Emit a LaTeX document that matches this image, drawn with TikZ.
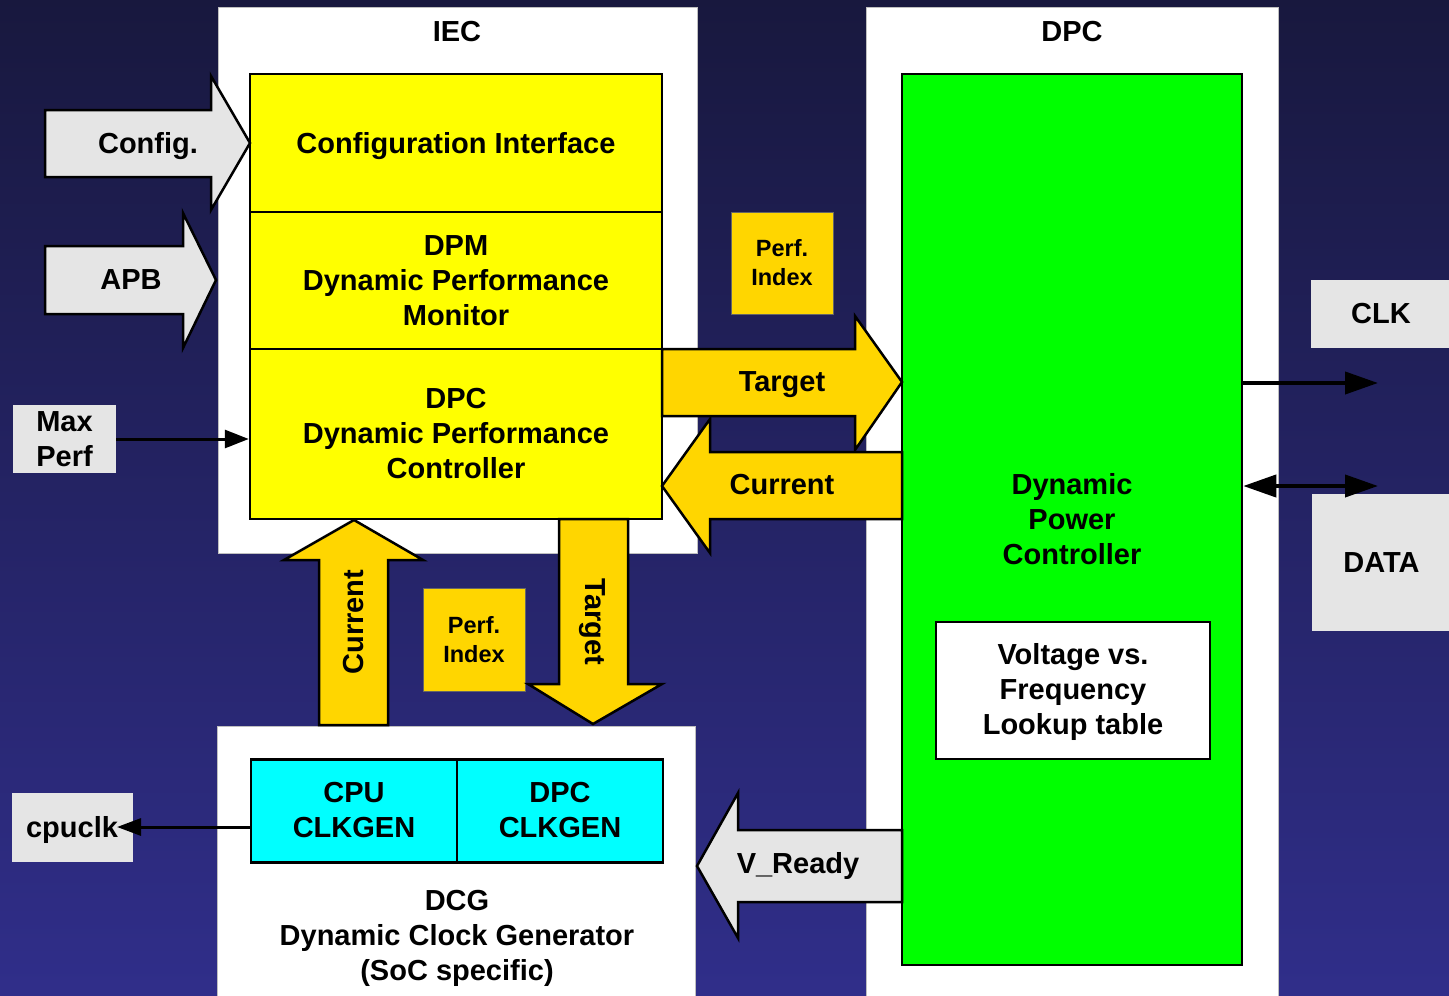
\documentclass[tikz,border=0pt]{standalone}
\usepackage{fontspec}
\setmainfont{Liberation Sans}
\usetikzlibrary{arrows.meta}
\definecolor{bgtop}{RGB}{24,24,62}
\definecolor{bgbot}{RGB}{48,46,138}
\definecolor{gold}{RGB}{255,214,0}
\definecolor{lgray}{RGB}{229,229,229}
\definecolor{yel}{RGB}{255,255,0}
\definecolor{grn}{RGB}{0,255,0}
\definecolor{cyn}{RGB}{0,255,255}
\begin{document}
\begin{tikzpicture}[x=1pt,y=-1pt,
 txt/.style={font=\bfseries\fontsize{29}{35}\selectfont, align=center, text=black},
 small/.style={font=\bfseries\fontsize{23.5}{29}\selectfont, align=center, text=black},
 blk/.style={draw=black, line width=2.5pt, inner sep=0pt, txt},
 wbox/.style={fill=white, draw=gray!50, line width=1pt, inner sep=0pt},
 gbox/.style={fill=lgray, inner sep=0pt, txt},
 pibox/.style={fill=gold, draw=black!60, line width=1pt, inner sep=0pt, small},
 barrow/.style={draw=black, line width=2.5pt, line join=miter},
 conn/.style={draw=black, line width=3pt},
]
\shade[top color=bgtop, bottom color=bgbot] (0,0) rectangle (1449,996);
\useasboundingbox (0,0) rectangle (1449,996);

% white containers
\node[wbox, minimum width=479pt, minimum height=546pt] (iec) at (457.5,280) {};
\node[txt] (iectitle) at (457,32) {IEC};
\node[wbox, minimum width=412pt, minimum height=994pt] (dpcbox) at (1072,504) {};
\node[txt] (dpctitle) at (1072,32) {DPC};
\node[wbox, minimum width=478pt, minimum height=276pt] (dcgbox) at (456,864) {};

% IEC blocks
\node[blk, fill=yel, minimum width=412pt, minimum height=138pt] (cfg) at (456,143) {};
\node[txt] (cfglabel) at (456,146) {Configuration Interface};
\node[blk, fill=yel, minimum width=412pt, minimum height=137pt] (dpm) at (456,280.5) {DPM\\Dynamic Performance\\Monitor};
\node[blk, fill=yel, minimum width=412pt, minimum height=170pt] (dpcc) at (456,434) {DPC\\Dynamic Performance\\Controller};

% DPC blocks
\node[blk, fill=grn, minimum width=340pt, minimum height=891pt] (dpwr) at (1072,519.5) {};
\node[txt] (dpwrlabel) at (1072,519) {Dynamic\\Power\\Controller};
\node[blk, fill=white, minimum width=274pt, minimum height=137pt] (lut) at (1073,690.5) {};
\node[txt] (lutlabel) at (1073,692) {Voltage vs.\\Frequency\\Lookup table};

% DCG blocks
\node[blk, fill=cyn, minimum width=206pt, minimum height=103pt] (cpugen) at (354,811) {};
\node[txt] (cpugenlabel) at (354,810) {CPU\\CLKGEN};
\node[blk, fill=cyn, minimum width=206pt, minimum height=103pt] (dpcgen) at (560,811) {};
\node[txt] (dpcgenlabel) at (560,810) {DPC\\CLKGEN};
\node[txt] (dcglabel) at (457,938) {DCG\\Dynamic Clock Generator\\(SoC specific)};

% external grey boxes
\node[gbox, minimum width=103pt, minimum height=68pt] (maxperf) at (64.5,439) {};
\node[txt] (maxperflabel) at (64.5,439) {Max\\Perf};
\node[gbox, minimum width=121pt, minimum height=69pt] (cpuclk) at (72.5,827.5) {};
\node[txt] (cpuclklabel) at (72,830) {cpuclk};
\node[gbox, minimum width=140pt, minimum height=68pt] (clk) at (1381,314) {CLK};
\node[gbox, minimum width=139pt, minimum height=137pt] (data) at (1381.5,562.5) {DATA};

% perf index boxes
\node[pibox, minimum width=102pt, minimum height=102pt] (pi1) at (782,263) {Perf.\\Index};
\node[pibox, minimum width=102pt, minimum height=103pt] (pi2) at (474,639.5) {Perf.\\Index};

% block arrows
\draw[barrow, fill=lgray] (45,110) -- (211,110) -- (211,76) -- (250,143) -- (211,210) -- (211,177) -- (45,177) -- cycle;
\node[txt] (cfglbl) at (148,146) {Config.};
\draw[barrow, fill=lgray] (45,246) -- (183,246) -- (183,213) -- (216,280) -- (183,348) -- (183,314) -- (45,314) -- cycle;
\node[txt] (apblbl) at (131,280) {APB};
\draw[barrow, fill=gold] (662,349) -- (855,349) -- (855,316) -- (902,382) -- (855,450) -- (855,416) -- (662,416) -- cycle;
\node[txt] (tgtlbl) at (782,385) {Target};
\draw[barrow, fill=gold] (902,452) -- (710,452) -- (710,419) -- (662,486) -- (710,553) -- (710,519) -- (902,519) -- cycle;
\node[txt] (curlbl) at (782,485) {Current};
\draw[barrow, fill=gold] (319,725) -- (319,560) -- (284,560) -- (354,520) -- (423,560) -- (388,560) -- (388,725) -- cycle;
\node[txt, rotate=90] (curvlbl) at (354,622) {Current};
\draw[barrow, fill=gold] (559,519) -- (559,684) -- (528,684) -- (593,724) -- (662,684) -- (628,684) -- (628,519) -- cycle;
\node[txt, rotate=-90] (tgtvlbl) at (592,622) {Target};
\draw[barrow, fill=lgray] (902,830) -- (738,830) -- (738,793) -- (697,866) -- (738,938) -- (738,902) -- (902,902) -- cycle;
\node[txt] (vrdylbl) at (798,866) {V\_Ready};

% connectors
\draw[conn, -{Triangle[length=24pt,width=18pt]}] (maxperf.east) -- (maxperf.east -| dpcc.west);
\coordinate (clkend) at (1378,383);
\draw[conn, line width=4pt, -{Triangle[length=33pt,width=22pt]}] (dpwr.east |- clkend) -- (clkend);
\coordinate (dataend) at (1378,486);
\draw[conn, line width=4pt, {Triangle[length=33pt,width=22pt]}-{Triangle[length=33pt,width=22pt]}] (dpwr.east |- dataend) -- (dataend);
\coordinate (cpuclkend) at (117,827);
\draw[conn, -{Triangle[length=24pt,width=17pt]}] (cpugen.west |- cpuclkend) -- (cpuclkend);
\end{tikzpicture}
\end{document}
